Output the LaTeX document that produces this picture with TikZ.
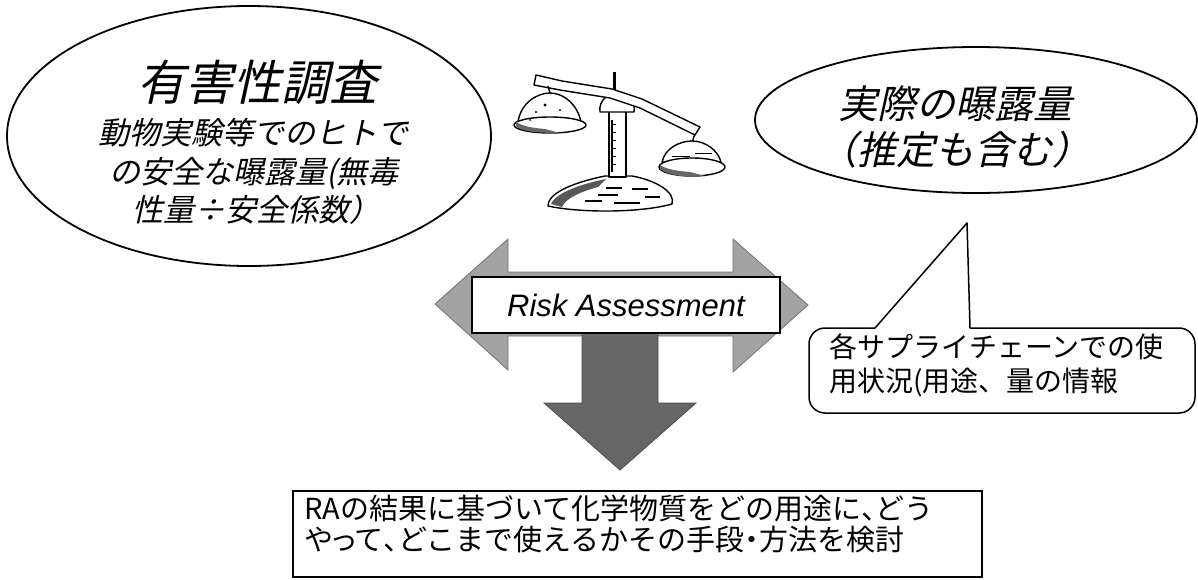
\documentclass[tikz,border=0pt]{standalone}
\usepackage{fontspec}
\setmainfont{Liberation Sans}
\newfontfamily\jp{Noto Sans CJK JP}
\newfontfamily\jpslant[FakeSlant=0.22]{Noto Sans CJK JP}
\usetikzlibrary{shapes.geometric}
% narrow punctuation, as in a proportional Gothic face
\newcommand{\ncomma}{\makebox[0.5em][l]{、}}
\newcommand{\ndot}{\makebox[0.5em][c]{・}}
\newcommand{\nsmalltsu}{\makebox[0.75em][c]{っ}}

\begin{document}
\begin{tikzpicture}[x=1pt,y=-1pt,
  bubble/.style={draw=black, line width=1.8pt, ellipse, inner sep=0pt},
  slanttext/.style={inner sep=0pt, anchor=center},
  ink/.style={line width=1.4pt, draw=black, fill=white},
  lightarrow/.style={fill=black!36, draw=black!55, line width=0.8pt},
  darkarrow/.style={fill=black!60, draw=black!70, line width=0.8pt},
  plaintext/.style={inner sep=0pt, align=left}
]
\useasboundingbox (0,0) rectangle (1198,579);

% ---- hazard investigation bubble
\node[bubble, minimum width=484pt, minimum height=260pt] (hazard) at (249,136) {};
\node[slanttext, font={\jpslant\fontsize{48}{52}\selectfont}] (hazardtitle) at (257,82) {有害性調査};
\node[slanttext, font={\jpslant\fontsize{31}{36}\selectfont}] (hazardl1) at (253,133) {動物実験等でのヒトで};
\node[slanttext, font={\jpslant\fontsize{31}{36}\selectfont}] (hazardl2) at (254,173) {の安全な曝露量(無毒};
\node[slanttext, font={\jpslant\fontsize{31}{36}\selectfont}] (hazardl3) at (256,210) {性量÷安全係数）};

% ---- actual exposure bubble
\node[bubble, minimum width=442pt, minimum height=146pt] (exposure) at (976,120) {};
\node[slanttext, font={\jpslant\fontsize{39}{44}\selectfont}] (exposurel1) at (955,104) {実際の曝露量};
\node[slanttext, font={\jpslant\fontsize{39}{44}\selectfont}] (exposurel2) at (955,150) {（推定も含む）};

% ---- balance
\begin{scope}[line join=round]
  % base
  \filldraw[ink] (548,206) .. controls (548,190) and (585,180) .. (605,176)
     -- (632,176) .. controls (655,180) and (676,192) .. (672,204)
     .. controls (640,213) and (580,213) .. (548,206) -- cycle;
  \fill[black!65] (551,204) .. controls (556,192) and (585,183) .. (606,179)
     -- (598,187) .. controls (580,192) and (566,198) .. (562,207) -- cycle;
  \draw[line width=1.1pt] (598,195) -- (618,195) (585,201) -- (602,201)
     (632,189) -- (648,189) (614,203) -- (640,203) (645,197) -- (660,197)
     (606,188) -- (622,188);
  % pillar
  \filldraw[ink] (609,110) rectangle (626,177);
  \draw[line width=1.1pt] (612,120) -- (612,172);
  \foreach \yy in {124,132,...,170} \draw[line width=1pt] (612,\yy) -- (616,\yy);
  % capital and knob
  \filldraw[ink] (600,112) .. controls (598,100) and (610,92) .. (618,92)
     .. controls (628,92) and (636,102) .. (634,112) -- cycle;
  \draw[line width=3pt] (614,72) -- (614,92);
  % beam
  \filldraw[ink] (536,75) -- (562,81) -- (612,89) -- (642,99) -- (700,127)
     -- (695,135) -- (640,108) -- (610,98) -- (560,90) -- (534,85) -- cycle;
  % left pan
  \draw[line width=1.4pt] (548,86) -- (550,93);
  \filldraw[ink] (518,122) .. controls (521,102) and (538,93) .. (550,93)
     .. controls (565,93) and (578,106) .. (581,122) -- cycle;
  \filldraw[ink] (550,125) ellipse [x radius=36pt, y radius=8pt];
  \fill[black!60] (516,126) .. controls (522,132) and (540,133) .. (560,133)
     -- (545,129) .. controls (532,128) and (522,126) .. (516,122) -- cycle;
  \fill (545,105) circle[radius=1.6pt] (536,112) circle[radius=1.2pt]
        (560,110) circle[radius=1.2pt] (530,120) circle[radius=1pt];
  % right pan
  \draw[line width=1.4pt] (695,134) -- (692,142);
  \filldraw[ink] (662,162) .. controls (665,148) and (680,141) .. (692,141)
     .. controls (705,141) and (718,150) .. (721,162) -- cycle;
  \filldraw[ink] (692,167) ellipse [x radius=33pt, y radius=9pt];
  \fill[black!60] (660,169) .. controls (668,176) and (690,178) .. (705,176)
     -- (690,172) .. controls (676,171) and (666,169) .. (660,165) -- cycle;
  \draw[line width=1pt] (672,156) -- (690,156) (695,153) -- (712,153);
\end{scope}

% ---- risk assessment arrows
\draw[lightarrow] (435,304) -- (508,239) -- (508,272) -- (733,272) -- (733,239)
   -- (808,305) -- (733,372) -- (733,336) -- (508,336) -- (508,370) -- cycle;
\draw[darkarrow] (582,320) -- (658,320) -- (658,403) -- (696,403) -- (620,470)
   -- (544,403) -- (582,403) -- cycle;
\node[draw=black, line width=2pt, fill=white, minimum width=308pt,
      minimum height=56pt, inner sep=0pt,
      font={\fontsize{31}{36}\selectfont\itshape}] (ra) at (626,305) {Risk Assessment};

% ---- supply chain callout
\draw[line width=1.5pt, line join=round, fill=white]
   (875,328) -- (967,223) -- (970,328)
   [rounded corners=16pt] -- (1195,328) -- (1195,413) -- (809,413) -- (809,328)
   [sharp corners] -- cycle;
\node[plaintext, anchor=west, font={\jp\fontsize{28}{34}\selectfont}] (usage) at (829,365)
   {各サプライチェーンでの使\\用状況(用途、量の情報};

% ---- conclusion box
\node[draw=black, line width=2.4pt, minimum width=689pt, minimum height=86pt,
      inner sep=0pt] (resultbox) at (637.5,534) {};
\node[plaintext, anchor=west, font={\jp\fontsize{29}{31}\selectfont}] (result) at (304,524)
   {RAの結果に基づいて化学物質をどの用途に\ncomma どう\\や\nsmalltsu て\ncomma どこまで使えるかその手段\ndot 方法を検討};
\end{tikzpicture}
\end{document}
